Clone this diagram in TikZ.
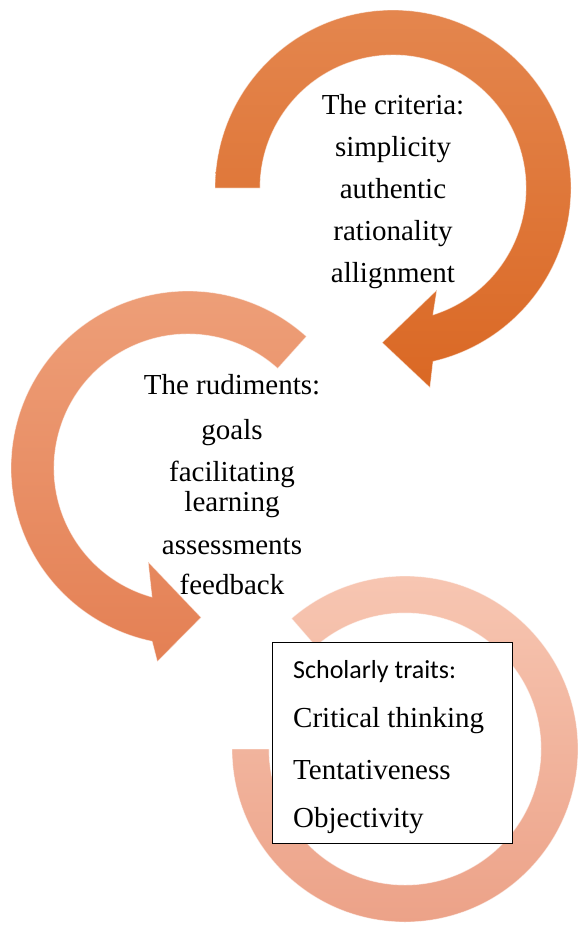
\documentclass[tikz,border=0pt]{standalone}
\usepackage{fontspec}
\setmainfont{Liberation Serif}
\newfontfamily\calibri{Carlito}
\usetikzlibrary{calc, positioning}

\definecolor{critA}{RGB}{228,134,78}
\definecolor{critB}{RGB}{218,104,36}
\definecolor{rudA}{RGB}{238,160,122}
\definecolor{rudB}{RGB}{228,128,84}
\definecolor{traitA}{RGB}{247,198,178}
\definecolor{traitB}{RGB}{236,162,136}

\begin{document}
\begin{tikzpicture}[x=1pt,y=1pt,
  band/.style={draw=white, draw opacity=0.5, line width=0.8pt},
  txt/.style={font=\fontsize{29}{42}\selectfont, align=center, inner sep=0pt},
  trait/.style={anchor=base west, inner sep=0pt, font=\fontsize{29}{30}\selectfont}]
  \useasboundingbox (0,0) rectangle (579,-926);
  \coordinate (c1) at (393,-188);
  \coordinate (c2) at (188,-468);
  \coordinate (c3) at (405,-749);

  % ring at the bottom
  \path[band, top color=traitA, bottom color=traitB]
    ($(c3)+(180:173)$) arc[start angle=180, end angle=491, radius=173]
    -- ($(c3)+(491:136)$) arc[start angle=491, end angle=180, radius=136] -- cycle;

  % criteria arrow
  \path[band, top color=critA, bottom color=critB]
    ($(c1)+(180:178)$) arc[start angle=180, end angle=-77, radius=178]
    -- ($(c1)+(-79.5:203)$) -- ($(c1)+(-94:155)$) -- ($(c1)+(-66.7:111)$)
    -- ($(c1)+(-72.5:133)$) arc[start angle=-72.5, end angle=180, radius=133] -- cycle;

  % rudiments arrow
  \path[band, top color=rudA, bottom color=rudB]
    ($(c2)+(48:177)$) arc[start angle=48, end angle=258.3, radius=177]
    -- ($(c2)+(261:196)$) -- ($(c2)+(275:150)$) -- ($(c2)+(247:102)$)
    -- ($(c2)+(254.4:134)$) arc[start angle=254.4, end angle=48, radius=134] -- cycle;

  \node[txt] (criteria) at (393,-191.5)
    {The criteria:\\simplicity\\authentic\\rationality\\allignment};
  \node[txt, font=\fontsize{29}{30}\selectfont] (rudiments) at (232,-484.5)
    {The rudiments:\\[15pt]goals\\[12pt]facilitating\\learning\\[13pt]assessments\\[10pt]feedback};

  \node[draw, line width=1pt, fill=white, minimum width=240, minimum height=201, inner sep=0pt] (box) at (392,-742.5) {};
  \node[trait, font=\calibri\fontsize{26}{30}\selectfont] (scholar) at (293,-678) {Scholarly traits:};
  \node[trait] (critical) at (293,-727) {Critical thinking};
  \node[trait] (tentative) at (293,-779) {Tentativeness};
  \node[trait] (objective) at (293,-827) {Objectivity};
\end{tikzpicture}
\end{document}
